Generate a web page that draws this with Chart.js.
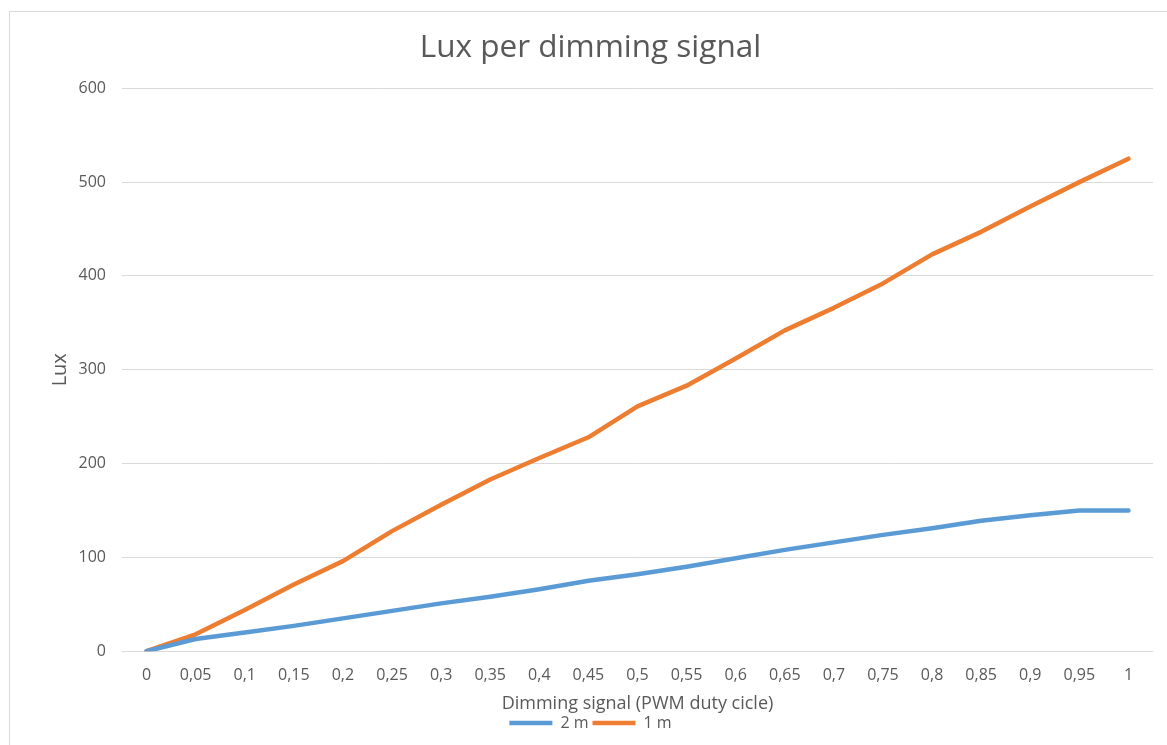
<!DOCTYPE html>
<html>
<head>
<meta charset="utf-8">
<script src="https://cdn.jsdelivr.net/npm/chart.js@4.4.1/dist/chart.umd.min.js"></script>
<style>
  html, body { margin: 0; padding: 0; background: #fff; }
  body { width: 1167px; height: 745px; overflow: hidden; position: relative; }
  #frame { position: absolute; left: 9px; top: 11px; width: 1200px; height: 800px;
           border-left: 1px solid #d9d9d9; border-top: 1px solid #d9d9d9; }
  #wrap { position: absolute; left: 0; top: 0; width: 1167px; height: 745px; }
</style>
</head>
<body>
<div id="frame"></div>
<div id="wrap"><canvas id="chart" width="1167" height="745"></canvas></div>
<script>
// PWM duty cycle steps (decimal comma labels)
const dutyCycle = ['0', '0,05', '0,1', '0,15', '0,2', '0,25', '0,3', '0,35', '0,4', '0,45', '0,5',
                   '0,55', '0,6', '0,65', '0,7', '0,75', '0,8', '0,85', '0,9', '0,95', '1'];
// Measured illuminance (lux) at 2 m distance
const lux2m = [0, 13, 20, 27, 35, 43, 51, 58, 66, 75, 82, 90, 99, 108, 116, 124, 131, 139, 145, 150, 150];
// Measured illuminance (lux) at 1 m distance
const lux1m = [0, 18, 44, 71, 96, 128, 156, 183, 206, 228, 261, 283, 312, 342, 366, 392, 423, 447, 474, 500, 525];
// Lux axis range
const luxMin = 0, luxMax = 600, luxStep = 100;

const FONT = "'Open Sans', 'Noto Sans', sans-serif";
const TEXT = '#595959';
const GRID = '#d9d9d9';

new Chart(document.getElementById('chart'), {
  type: 'line',
  data: {
    labels: dutyCycle,
    datasets: [
      { label: '2 m', data: lux2m, borderColor: '#5B9BD5', backgroundColor: '#5B9BD5',
        borderWidth: 4.5, pointRadius: 0, tension: 0, borderCapStyle: 'round', borderJoinStyle: 'round' },
      { label: '1 m', data: lux1m, borderColor: '#ED7D31', backgroundColor: '#ED7D31',
        borderWidth: 4.5, pointRadius: 0, tension: 0, borderCapStyle: 'round', borderJoinStyle: 'round' }
    ]
  },
  options: {
    responsive: false,
    animation: false,
    devicePixelRatio: 1,
    layout: { padding: { left: 28, right: 14, top: 0, bottom: 4 } },
    plugins: {
      title: { display: true, text: 'Lux per dimming signal', color: TEXT,
               font: { family: FONT, size: 31.5, weight: 'normal' }, padding: { top: 29, bottom: 21.5 } },
      legend: { position: 'bottom',
                labels: { color: TEXT, font: { family: FONT, size: 16 }, usePointStyle: true,
                          pointStyle: 'line', pointStyleWidth: 43, padding: 4 } },
      tooltip: { enabled: false }
    },
    scales: {
      x: {
        offset: true,
        grid: { display: false, drawTicks: false },
        border: { display: false },
        ticks: { color: TEXT, font: { family: FONT, size: 16 }, padding: 15, maxRotation: 0, autoSkip: false },
        title: { display: true, text: 'Dimming signal (PWM duty cicle)', color: TEXT,
                 font: { family: FONT, size: 18 }, padding: { top: -7, bottom: -4 } }
      },
      y: {
        min: luxMin, max: luxMax,
        grid: { color: GRID, lineWidth: 1, drawTicks: false },
        border: { display: false },
        ticks: { stepSize: luxStep, color: TEXT, font: { family: FONT, size: 16 }, padding: 16 },
        title: { display: true, text: 'Lux', color: TEXT, font: { family: FONT, size: 20 },
                 padding: { top: 20, bottom: 0 } },
        afterFit(scale) { scale.width = 94; }
      }
    }
  }
});
</script>
</body>
</html>
